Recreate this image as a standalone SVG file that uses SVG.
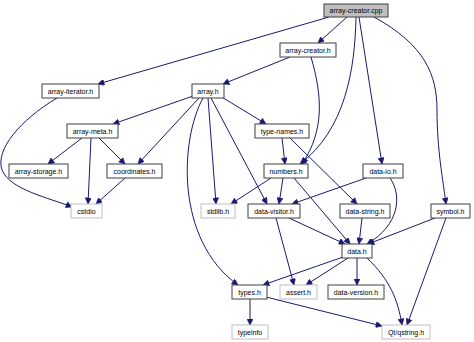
<svg xmlns="http://www.w3.org/2000/svg" width="474" height="342" viewBox="0 0 474 342">
<style>
.n rect{fill:#fff;stroke:#404040;stroke-width:1}
.n.root rect{fill:#bfbfbf}
.n.ext rect{stroke:#bfbfbf}
.n text{font-family:"Liberation Sans",Arial,sans-serif;font-size:7px;fill:#000;text-anchor:middle}
#edges path{fill:none;stroke:#191970;stroke-width:1;marker-end:url(#arr)}
</style>
<defs>
<marker id="arr" viewBox="0 0 10 10" refX="10" refY="5" markerWidth="7" markerHeight="6" markerUnits="userSpaceOnUse" orient="auto">
<path d="M0,0 L10,5 L0,10 z" fill="#191970" stroke="#191970"/>
</marker>
</defs>
<rect width="474" height="342" fill="#fff"/>
<g id="edges">
<path d="M329,17 L98,84"/>
<path d="M347,17 L318,43"/>
<path d="M356,17 C355,70 345,130 300,164"/>
<path d="M359,17 L382,164"/>
<path d="M374,17 C425,45 437,75 437,110 C437,150 443,180 446,204"/>
<path d="M290,57 L223,84"/>
<path d="M311,57 C322,95 325,130 302,164"/>
<path d="M193,96 L113,124"/>
<path d="M199,98 L138,164"/>
<path d="M203,98 C180,140 175,240 238,285"/>
<path d="M208,98 L216,204"/>
<path d="M211,98 L267,204"/>
<path d="M220,96 L266,124"/>
<path d="M57,98 C20,120 -5,150 2,170 C10,190 50,198 72,207"/>
<path d="M82,138 L48,164"/>
<path d="M91,138 L88,204"/>
<path d="M99,138 L125,164"/>
<path d="M125,178 L96,204"/>
<path d="M282,138 L285,164"/>
<path d="M290,138 L357,204"/>
<path d="M271,178 L231,204"/>
<path d="M283,178 L279,204"/>
<path d="M294,178 L350,244"/>
<path d="M366,178 L292,204"/>
<path d="M390,178 C402,195 400,225 367,244"/>
<path d="M362,218 L359,244"/>
<path d="M289,218 L345,244"/>
<path d="M276,218 L294,285"/>
<path d="M435,218 L368,244"/>
<path d="M446,218 L407,325"/>
<path d="M343,257 L263,285"/>
<path d="M348,258 L306,285"/>
<path d="M357,258 L357,285"/>
<path d="M367,258 C390,280 398,300 402,325"/>
<path d="M250,299 L250,325"/>
<path d="M266,297 L382,326"/>
</g>
<g id="n-array-creator-cpp" class="n root"><rect x="324" y="4" width="64" height="13"/><text x="356" y="13">array-creator.cpp</text></g>
<g id="n-array-creator-h" class="n"><rect x="280" y="43" width="56" height="14"/><text x="308" y="53">array-creator.h</text></g>
<g id="n-array-iterator-h" class="n"><rect x="42" y="84" width="57" height="14"/><text x="70.5" y="94">array-iterator.h</text></g>
<g id="n-array-h" class="n"><rect x="192" y="84" width="32" height="14"/><text x="208" y="94">array.h</text></g>
<g id="n-array-meta-h" class="n"><rect x="67" y="124" width="51" height="14"/><text x="92.5" y="134">array-meta.h</text></g>
<g id="n-type-names-h" class="n"><rect x="255" y="124" width="54" height="14"/><text x="282" y="134">type-names.h</text></g>
<g id="n-array-storage-h" class="n"><rect x="9" y="164" width="59" height="14"/><text x="38.5" y="174">array-storage.h</text></g>
<g id="n-coordinates-h" class="n"><rect x="107" y="164" width="55" height="14"/><text x="134.5" y="174">coordinates.h</text></g>
<g id="n-numbers-h" class="n"><rect x="264" y="164" width="44" height="14"/><text x="286" y="174">numbers.h</text></g>
<g id="n-data-io-h" class="n"><rect x="363" y="164" width="40" height="14"/><text x="383" y="174">data-io.h</text></g>
<g id="n-cstdio" class="n ext"><rect x="71" y="204" width="31" height="14"/><text x="86.5" y="214">cstdio</text></g>
<g id="n-stdlib-h" class="n ext"><rect x="201" y="204" width="34" height="14"/><text x="218" y="214">stdlib.h</text></g>
<g id="n-data-visitor-h" class="n"><rect x="248" y="204" width="52" height="14"/><text x="274" y="214">data-visitor.h</text></g>
<g id="n-data-string-h" class="n"><rect x="340" y="204" width="50" height="14"/><text x="365" y="214">data-string.h</text></g>
<g id="n-symbol-h" class="n"><rect x="431" y="204" width="39" height="14"/><text x="450.5" y="214">symbol.h</text></g>
<g id="n-data-h" class="n"><rect x="342" y="244" width="30" height="14"/><text x="357" y="254">data.h</text></g>
<g id="n-types-h" class="n"><rect x="232" y="285" width="35" height="14"/><text x="249.5" y="295">types.h</text></g>
<g id="n-assert-h" class="n ext"><rect x="280" y="285" width="37" height="14"/><text x="298.5" y="295">assert.h</text></g>
<g id="n-data-version-h" class="n"><rect x="328" y="285" width="56" height="14"/><text x="356" y="295">data-version.h</text></g>
<g id="n-typeinfo" class="n ext"><rect x="232" y="325" width="36" height="14"/><text x="250" y="335">typeinfo</text></g>
<g id="n-qt-qstring-h" class="n ext"><rect x="382" y="325" width="48" height="14"/><text x="406" y="335">Qt/qstring.h</text></g>
</svg>
